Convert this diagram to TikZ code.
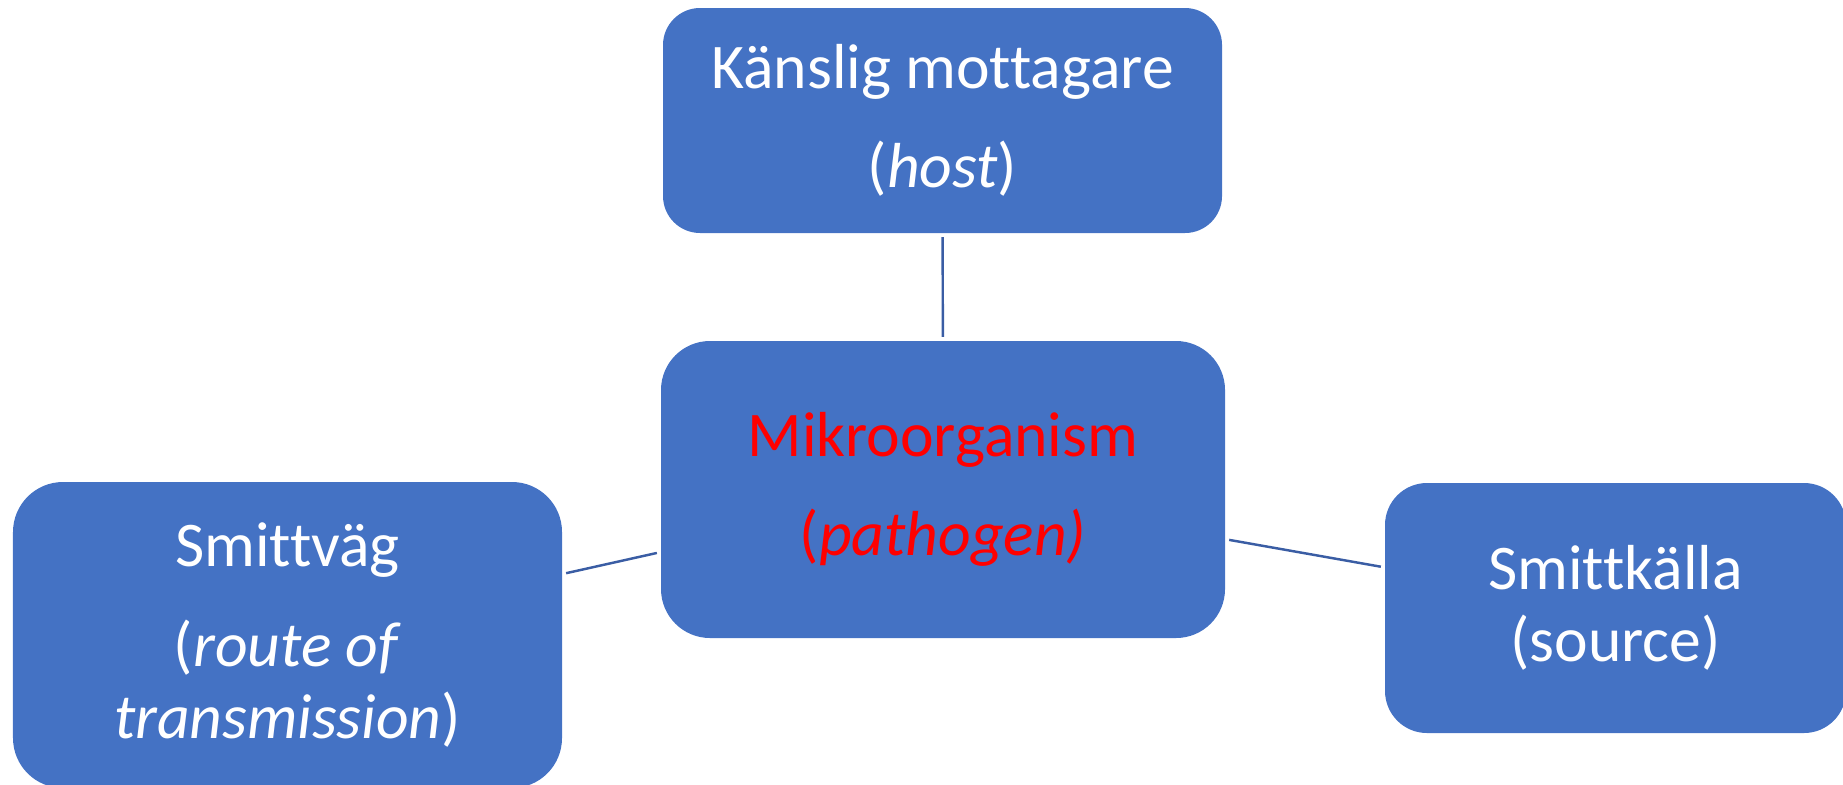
\documentclass[tikz,border=0pt]{standalone}
\usepackage{fontspec}
\setmainfont{Carlito}[Ligatures=NoCommon]
\definecolor{boxblue}{HTML}{4472C4}
\definecolor{linkblue}{HTML}{3A5DA4}
\begin{document}
\begin{tikzpicture}[
        box/.style={rectangle, fill=boxblue, text=white, align=center, inner sep=0pt,
            font=\fontsize{18.1}{20.5}\selectfont},
        link/.style={draw=linkblue, line width=0.7pt, shorten <=1pt, shorten >=1pt}
    ]
        \useasboundingbox (0,0) rectangle (18.43,7.84);

        % Centre box (pathogen)
        \node[box, text=red, rounded corners=0.49cm, minimum width=5.64cm, minimum height=2.97cm]
            (pathogen) at (9.43, 2.945) {Mikroorganism\\[7.7pt](\textit{pathogen)}};

        % Top box (host)
        \node[box, rounded corners=0.37cm, minimum width=5.59cm, minimum height=2.25cm]
            (host) at (9.425, 6.635) {Känslig mottagare\\[7.7pt](\textit{host})};

        % Left box (route)
        \node[box, rounded corners=0.5cm, minimum width=5.49cm, minimum height=3.06cm]
            (route) at (2.875, 1.49) {Smittväg\\[7.7pt](\textit{route of}\\\textit{transmission})};

        % Right box (source)
        \node[box, rounded corners=0.42cm, minimum width=4.61cm, minimum height=2.5cm]
            (source) at (16.155, 1.76) {Smittkälla\\(source)};

        % Links to the centre
        \draw[link] (host) -- (pathogen);
        \draw[link] (route) -- (pathogen);
        \draw[link] (pathogen) -- (source);
    \end{tikzpicture}
\end{document}
